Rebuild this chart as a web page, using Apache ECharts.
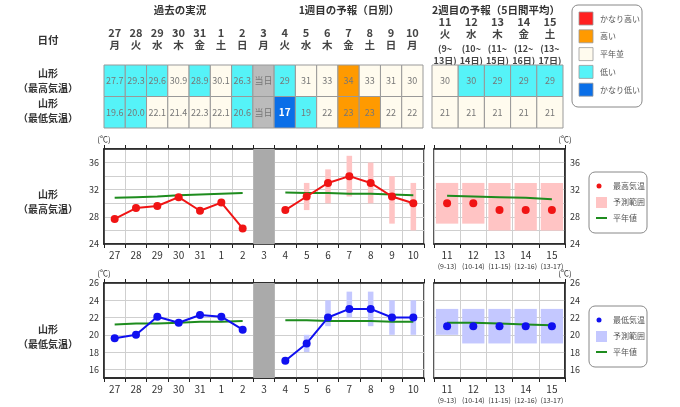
<!DOCTYPE html>
<html>
<head>
<meta charset="utf-8">
<script src="https://cdn.jsdelivr.net/npm/echarts@6/dist/echarts.min.js"></script>
<style>
html, body { margin: 0; padding: 0; background: #fff; }
#chart { width: 680px; height: 407px; }
</style>
</head>
<body>
<div id="chart"></div>
<script>
// days and labels
const days1 = ['27', '28', '29', '30', '31', '1', '2', '3', '4', '5', '6', '7', '8', '9', '10'];
const wdays1 = ['月', '火', '水', '木', '金', '土', '日', '月', '火', '水', '木', '金', '土', '日', '月'];
const days2 = ['11', '12', '13', '14', '15'];
const wdays2 = ['火', '水', '木', '金', '土'];
const periodStart = ['9', '10', '11', '12', '13'];
const periodEnd = ['13', '14', '15', '16', '17'];
const todayIndex = 7;

// table texts and classes (VH かなり高い, H 高い, N 平年並, L 低い, VL かなり低い, T 当日)
const tabMaxText1 = ['27.7', '29.3', '29.6', '30.9', '28.9', '30.1', '26.3', '当日', '29', '31', '33', '34', '33', '31', '30'];
const tabMaxClass1 = ['L', 'L', 'L', 'N', 'L', 'N', 'L', 'T', 'L', 'N', 'N', 'H', 'N', 'N', 'N'];
const tabMinText1 = ['19.6', '20.0', '22.1', '21.4', '22.3', '22.1', '20.6', '当日', '17', '19', '22', '23', '23', '22', '22'];
const tabMinClass1 = ['L', 'L', 'N', 'N', 'N', 'N', 'L', 'T', 'VL', 'L', 'N', 'H', 'H', 'N', 'N'];
const tabMaxText2 = ['30', '30', '29', '29', '29'];
const tabMaxClass2 = ['N', 'L', 'L', 'L', 'L'];
const tabMinText2 = ['21', '21', '21', '21', '21'];
const tabMinClass2 = ['N', 'N', 'N', 'N', 'N'];

// max temperature
const hi1 = [27.7, 29.3, 29.6, 30.9, 28.9, 30.1, 26.3, null, 29, 31, 33, 34, 33, 31, 30];
const hiNorm1 = [30.8, 30.9, 31.0, 31.2, 31.3, 31.4, 31.5, null, 31.6, 31.5, 31.5, 31.4, 31.4, 31.3, 31.2];
const hiLow1 = [null, null, null, null, null, null, null, null, null, 29, 30, 31, 30, 27, 26];
const hiHigh1 = [null, null, null, null, null, null, null, null, null, 33, 35, 37, 36, 34, 33];
const hi2 = [30, 30, 29, 29, 29];
const hiNorm2 = [31.1, 31.0, 30.9, 30.8, 30.6];
const hiLow2 = [27, 27, 26, 26, 26];
const hiHigh2 = [33, 33, 33, 33, 33];

// min temperature
const lo1 = [19.6, 20.0, 22.1, 21.4, 22.3, 22.1, 20.6, null, 17, 19, 22, 23, 23, 22, 22];
const loNorm1 = [21.2, 21.3, 21.3, 21.4, 21.5, 21.5, 21.6, null, 21.7, 21.7, 21.6, 21.6, 21.6, 21.5, 21.5];
const loLow1 = [null, null, null, null, null, null, null, null, null, 18, 21, 22, 21, 20, 20];
const loHigh1 = [null, null, null, null, null, null, null, null, null, 20, 24, 25, 25, 24, 24];
const lo2 = [21, 21, 21, 21, 21];
const loNorm2 = [21.4, 21.4, 21.3, 21.2, 21.1];
const loLow2 = [20, 19, 19, 19, 19];
const loHigh2 = [23, 23, 23, 23, 23];

const classKeys = ['VH', 'H', 'N', 'L', 'VL'];
const classNames = ['かなり高い', '高い', '平年並', '低い', 'かなり低い'];

const FONT = '"Noto Sans CJK JP", "Noto Sans", sans-serif';
const classColors = { VH: '#ff2020', H: '#ff9a00', N: '#fffbee', L: '#55f3f8', VL: '#0a6fe8', T: '#bbbbbb' };
const RED = '#f01414', PINK = '#ffc4c4', BLUE = '#1010f0', LBLUE = '#c4c8ff', GREEN = '#1e8c1e';

const chart = echarts.init(document.getElementById('chart'));

const cellItem = (rows) => (params, api) => {
    const i = api.value(0), r = api.value(1);
    const c = api.coord([i, r]);
    const s = api.size([1, 1]);
    const cls = rows[r].cls[i];
    const bold = cls === 'VL';
    return {
        type: 'rect',
        shape: { x: c[0] - s[0] / 2, y: c[1] - s[1] / 2, width: s[0], height: s[1] },
        style: { fill: classColors[cls], stroke: '#999', lineWidth: 1 },
        textContent: {
            style: {
                text: rows[r].text[i], fill: bold ? '#fff' : '#777',
                font: (bold ? 'bold 10px ' : '9px ') + FONT
            }
        },
        textConfig: { position: 'inside' }
    };
};

const cellData = (n) => {
    const out = [];
    for (let i = 0; i < n; i++) { out.push([i, 0]); out.push([i, 1]); }
    return out;
};

const rangeItem = (frac, color) => (params, api) => {
    const lo = api.coord([api.value(0), api.value(1)]);
    const hi = api.coord([api.value(0), api.value(2)]);
    const w = api.size([1, 0])[0] * frac;
    return {
        type: 'rect',
        shape: { x: lo[0] - w / 2, y: hi[1], width: w, height: lo[1] - hi[1] },
        style: { fill: color }
    };
};

const rangeData = (low, high) => low.map((v, i) => [i, v, high[i]]).filter(d => d[1] != null);

const bandItem = (params, api) => {
    const cs = params.coordSys;
    const x = api.coord([api.value(0), api.value(1)])[0];
    const w = api.size([1, 0])[0];
    return { type: 'rect', shape: { x: x - w / 2, y: cs.y, width: w, height: cs.height }, style: { fill: '#aaaaaa' } };
};

const gridBox = (g) => Object.assign({ show: true, borderColor: '#222', borderWidth: 1.5, backgroundColor: 'transparent' }, g);

const bottomAxis = (gi, data, margin, right) => ({
    type: 'category', gridIndex: gi, data: data, position: 'bottom', boundaryGap: true,
    axisLine: { lineStyle: { color: '#222', width: 1.5 } },
    axisTick: { show: true, inside: false, length: 4, lineStyle: { color: '#222' } },
    splitLine: { show: true, lineStyle: { color: '#cfcfcf' } },
    axisLabel: right ? {
        interval: 0, margin: margin,
        formatter: (v, i) => `{a|${v}}\n{b|(${periodStart[i]}-${periodEnd[i]})}`,
        rich: {
            a: { fontSize: 10, lineHeight: 12, color: '#333', fontFamily: FONT },
            b: { fontSize: 7, lineHeight: 10, color: '#333', fontFamily: FONT }
        }
    } : { interval: 0, margin: margin, fontSize: 10, color: '#333', fontFamily: FONT }
});

const topAxis = (gi, data) => ({
    type: 'category', gridIndex: gi, data: data, position: 'top', boundaryGap: true,
    axisLine: { lineStyle: { color: '#222', width: 1.5 } },
    axisTick: { show: true, inside: false, length: 4, lineStyle: { color: '#222' } },
    axisLabel: { show: false }, splitLine: { show: false }
});

const valAxis = (gi, pos, min, max, interval, labelStep, gridColors) => ({
    type: 'value', gridIndex: gi, position: pos, min: min, max: max, interval: interval,
    name: '(℃)', nameLocation: 'end', nameGap: 6,
    nameTextStyle: { fontSize: 8, color: '#333', fontFamily: FONT },
    axisLine: { show: true, lineStyle: { color: '#222', width: 1.5 } },
    axisTick: { show: false },
    splitLine: { show: true, lineStyle: { color: gridColors } },
    axisLabel: {
        margin: 5, fontSize: 9, color: '#333', fontFamily: FONT,
        formatter: v => (v % labelStep === 0 ? String(v) : '')
    }
});

const txt = (x, y, text, size, opts) => Object.assign({
    type: 'text', x: x, y: y,
    style: { text: text, fill: '#333', font: `bold ${size}px ${FONT}`, textAlign: 'center', textVerticalAlign: 'middle' }
}, opts || {});

const graphic = [
    txt(180, 10, '過去の実況', 10.5),
    txt(349, 10, '1週目の予報（日別）', 10.5),
    txt(496, 10, '2週目の予報（5日間平均）', 10.5),
    txt(48, 40, '日付', 10.5),
    txt(48, 73, '山形', 10), txt(48, 88, '（最高気温）', 10),
    txt(48, 103, '山形', 10), txt(48, 118, '（最低気温）', 10),
    txt(48, 194, '山形', 10), txt(48, 209, '（最高気温）', 10),
    txt(48, 329, '山形', 10), txt(48, 344, '（最低気温）', 10),
    { type: 'rect', shape: { x: 572, y: 5, width: 70, height: 102, r: 6 }, style: { fill: '#fff', stroke: '#888', lineWidth: 1 } }
];
classKeys.forEach((k, i) => {
    const y = 12 + i * 17.8;
    graphic.push({ type: 'rect', shape: { x: 579, y: y, width: 14, height: 13 }, style: { fill: classColors[k], stroke: '#999', lineWidth: 0.8 } });
    graphic.push({ type: 'text', x: 600, y: y + 6.5, style: { text: classNames[i], fill: '#555', font: `8px ${FONT}`, textVerticalAlign: 'middle' } });
});

const seriesLegend = (top, dotColor, rangeColor, label) => {
    const items = [
        { type: 'rect', shape: { x: 589, y: top, width: 58, height: 61, r: 6 }, style: { fill: '#fff', stroke: '#888', lineWidth: 1 } },
        { type: 'circle', shape: { cx: 599, cy: top + 14, r: 2.5 }, style: { fill: dotColor } },
        { type: 'rect', shape: { x: 596, y: top + 25, width: 11, height: 11 }, style: { fill: rangeColor } },
        { type: 'line', shape: { x1: 596, y1: top + 46, x2: 607, y2: top + 46 }, style: { stroke: GREEN, lineWidth: 2 } }
    ];
    [label, '予測範囲', '平年値'].forEach((t, i) => {
        items.push({ type: 'text', x: 613, y: top + 14 + i * 16, style: { text: t, fill: '#555', font: `8px ${FONT}`, textVerticalAlign: 'middle' } });
    });
    return items;
};
graphic.push(...seriesLegend(172, RED, PINK, '最高気温'));
graphic.push(...seriesLegend(306, BLUE, LBLUE, '最低気温'));

const tableTopAxis = (gi, right) => ({
    type: 'category', gridIndex: gi, position: 'top', data: right ? days2 : days1,
    axisLine: { show: false }, axisTick: { show: false },
    axisLabel: right ? {
        interval: 0, margin: 0,
        formatter: (v, i) => `{n|${v}}\n{w|${wdays2[i]}}\n{p|(${periodStart[i]}~}\n{q|${periodEnd[i]}日)}`,
        rich: {
            n: { fontSize: 11, fontWeight: 'bold', color: '#444', lineHeight: 12, fontFamily: FONT },
            w: { fontSize: 10.5, fontWeight: 'bold', color: '#444', lineHeight: 13, fontFamily: FONT },
            p: { fontSize: 9, fontWeight: 'bold', color: '#444', lineHeight: 15, fontFamily: FONT },
            q: { fontSize: 9, fontWeight: 'bold', color: '#444', lineHeight: 9, fontFamily: FONT }
        }
    } : {
        interval: 0, margin: 13,
        formatter: (v, i) => `{n|${v}}\n{w|${wdays1[i]}}`,
        rich: {
            n: { fontSize: 11, fontWeight: 'bold', color: '#444', lineHeight: 13, fontFamily: FONT },
            w: { fontSize: 10.5, fontWeight: 'bold', color: '#444', lineHeight: 13, fontFamily: FONT }
        }
    }
});

const rowAxis = (gi) => ({
    type: 'category', gridIndex: gi, data: ['max', 'min'], inverse: true,
    axisLine: { show: false }, axisTick: { show: false }, axisLabel: { show: false }, splitLine: { show: false }
});

const gridHi = ['#cfcfcf'];
const gridLo = ['rgba(0,0,0,0)', '#cfcfcf'];

const option = {
    animation: false,
    textStyle: { fontFamily: FONT },
    grid: [
        { left: 104, top: 65, width: 319, height: 63 },
        { left: 432, top: 65, width: 131, height: 63 },
        gridBox({ left: 104, top: 149, width: 320, height: 95 }),
        gridBox({ left: 434, top: 149, width: 131, height: 95 }),
        gridBox({ left: 104, top: 283, width: 320, height: 95 }),
        gridBox({ left: 434, top: 283, width: 131, height: 95 })
    ],
    xAxis: [
        tableTopAxis(0, false), tableTopAxis(1, true),
        bottomAxis(2, days1, 6, false), topAxis(2, days1),
        bottomAxis(3, days2, 5, true), topAxis(3, days2),
        bottomAxis(4, days1, 6, false), topAxis(4, days1),
        bottomAxis(5, days2, 5, true), topAxis(5, days2)
    ],
    yAxis: [
        rowAxis(0), rowAxis(1),
        valAxis(2, 'left', 24, 38, 2, 4, gridHi),
        valAxis(3, 'right', 24, 38, 2, 4, gridHi),
        valAxis(4, 'left', 15, 26, 1, 2, gridLo),
        valAxis(5, 'right', 15, 26, 1, 2, gridLo)
    ],
    graphic: graphic,
    series: [
        // tables
        { type: 'custom', xAxisIndex: 0, yAxisIndex: 0, data: cellData(days1.length),
          renderItem: cellItem([{ text: tabMaxText1, cls: tabMaxClass1 }, { text: tabMinText1, cls: tabMinClass1 }]) },
        { type: 'custom', xAxisIndex: 1, yAxisIndex: 1, data: cellData(days2.length),
          renderItem: cellItem([{ text: tabMaxText2, cls: tabMaxClass2 }, { text: tabMinText2, cls: tabMinClass2 }]) },

        // max temperature, days
        { type: 'custom', xAxisIndex: 2, yAxisIndex: 2, data: [[todayIndex, 24]], renderItem: bandItem, z: 1 },
        { type: 'custom', xAxisIndex: 2, yAxisIndex: 2, data: rangeData(hiLow1, hiHigh1),
          encode: { x: 0, y: [1, 2] }, renderItem: rangeItem(0.26, PINK), z: 2 },
        { type: 'line', xAxisIndex: 2, yAxisIndex: 2, data: hiNorm1, showSymbol: false,
          lineStyle: { color: GREEN, width: 2 }, z: 3 },
        { type: 'line', xAxisIndex: 2, yAxisIndex: 2, data: hi1, symbol: 'circle', symbolSize: 8,
          itemStyle: { color: RED }, lineStyle: { color: RED, width: 2 }, z: 4 },

        // max temperature, 5-day means
        { type: 'custom', xAxisIndex: 4, yAxisIndex: 3, data: rangeData(hiLow2, hiHigh2),
          encode: { x: 0, y: [1, 2] }, renderItem: rangeItem(0.85, PINK), z: 2 },
        { type: 'line', xAxisIndex: 4, yAxisIndex: 3, data: hiNorm2, showSymbol: false,
          lineStyle: { color: GREEN, width: 2 }, z: 3 },
        { type: 'scatter', xAxisIndex: 4, yAxisIndex: 3, data: hi2, symbolSize: 8,
          itemStyle: { color: RED, opacity: 1 }, z: 4 },

        // min temperature, days
        { type: 'custom', xAxisIndex: 6, yAxisIndex: 4, data: [[todayIndex, 15]], renderItem: bandItem, z: 1 },
        { type: 'custom', xAxisIndex: 6, yAxisIndex: 4, data: rangeData(loLow1, loHigh1),
          encode: { x: 0, y: [1, 2] }, renderItem: rangeItem(0.26, LBLUE), z: 2 },
        { type: 'line', xAxisIndex: 6, yAxisIndex: 4, data: loNorm1, showSymbol: false,
          lineStyle: { color: GREEN, width: 2 }, z: 3 },
        { type: 'line', xAxisIndex: 6, yAxisIndex: 4, data: lo1, symbol: 'circle', symbolSize: 8,
          itemStyle: { color: BLUE }, lineStyle: { color: BLUE, width: 2 }, z: 4 },

        // min temperature, 5-day means
        { type: 'custom', xAxisIndex: 8, yAxisIndex: 5, data: rangeData(loLow2, loHigh2),
          encode: { x: 0, y: [1, 2] }, renderItem: rangeItem(0.85, LBLUE), z: 2 },
        { type: 'line', xAxisIndex: 8, yAxisIndex: 5, data: loNorm2, showSymbol: false,
          lineStyle: { color: GREEN, width: 2 }, z: 3 },
        { type: 'scatter', xAxisIndex: 8, yAxisIndex: 5, data: lo2, symbolSize: 8,
          itemStyle: { color: BLUE, opacity: 1 }, z: 4 }
    ]
};

chart.setOption(option);
</script>
</body>
</html>
